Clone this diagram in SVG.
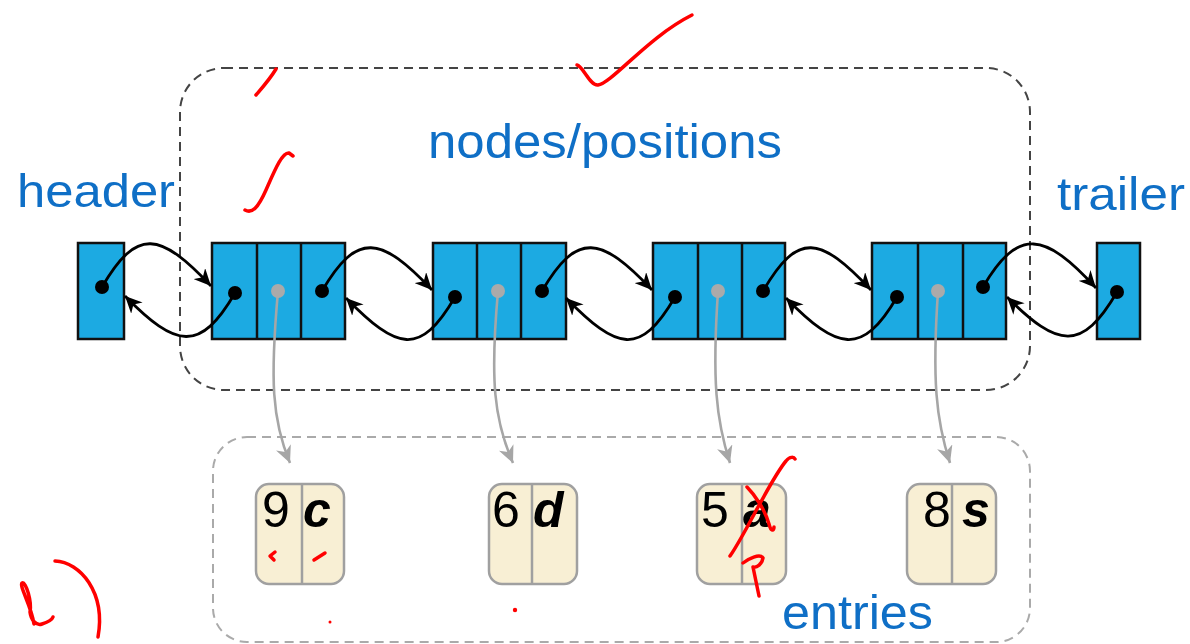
<svg xmlns="http://www.w3.org/2000/svg" width="1190" height="644" viewBox="0 0 1190 644">
  <style>
    .label { font-family: "Liberation Sans", Arial, sans-serif; fill: #0F6FC6; }
    .cell { fill: #1CAAE2; stroke: #111; stroke-width: 2.5; }
    .div { stroke: #111; stroke-width: 2.5; }
    .link { fill: none; stroke: #000; stroke-width: 2.8; }
    .ref { fill: none; stroke: #A6A6A6; stroke-width: 2.6; }
    .dot { fill: #000; }
    .gdot { fill: #AAAAAA; }
    .entry { fill: #F8EFD4; stroke: #A0A0A0; stroke-width: 2.5; }
    .ediv { stroke: #A0A0A0; stroke-width: 2.5; }
    .key { font-family: "Liberation Sans", Arial, sans-serif; font-size: 50px; fill: #000; }
    .val { font-family: "Liberation Sans", Arial, sans-serif; font-size: 50px; font-weight: bold; font-style: italic; fill: #000; }
    .ink { fill: none; stroke: #FF0000; stroke-width: 3.5; stroke-linecap: round; stroke-linejoin: round; }
  </style>
  <defs>
    <marker id="arrow" markerUnits="userSpaceOnUse" markerWidth="18" markerHeight="16" refX="17" refY="8" orient="auto">
      <path d="M0,0 L17,8 L0,16 L5,8 z" fill="#000"/>
    </marker>
    <marker id="garrow" markerUnits="userSpaceOnUse" markerWidth="18" markerHeight="16" refX="17" refY="8" orient="auto">
      <path d="M0,0 L17,8 L0,16 L5,8 z" fill="#A6A6A6"/>
    </marker>
  </defs>

  <rect width="1190" height="644" fill="#fff"/>

  <!-- containers -->
  <g id="positions-frame">
    <rect x="180" y="68" width="850" height="322" rx="44" fill="none" stroke="#444" stroke-width="2" stroke-dasharray="9,6"/>
    <text class="label" x="428" y="158" font-size="48" textLength="354" lengthAdjust="spacingAndGlyphs">nodes/positions</text>
  </g>
  <g id="entries-frame">
    <rect x="213" y="437" width="817" height="205" rx="34" fill="none" stroke="#AAAAAA" stroke-width="2" stroke-dasharray="9,6"/>
    <text class="label" x="782" y="629" font-size="48" textLength="151" lengthAdjust="spacingAndGlyphs">entries</text>
  </g>

  <!-- sentinels -->
  <g id="header">
    <text class="label" x="17" y="207" font-size="46" textLength="158" lengthAdjust="spacingAndGlyphs">header</text>
    <rect class="cell" x="78" y="243" width="46" height="96"/>
  </g>
  <g id="trailer">
    <text class="label" x="1057" y="210" font-size="46" textLength="128" lengthAdjust="spacingAndGlyphs">trailer</text>
    <rect class="cell" x="1097" y="243" width="43" height="96"/>
  </g>

  <!-- list nodes: prev | element | next -->
  <g id="node1">
    <rect class="cell" x="212" y="243" width="133" height="96"/>
    <line class="div" x1="257" y1="243" x2="257" y2="339"/>
    <line class="div" x1="301" y1="243" x2="301" y2="339"/>
  </g>
  <g id="node2">
    <rect class="cell" x="433" y="243" width="133" height="96"/>
    <line class="div" x1="477" y1="243" x2="477" y2="339"/>
    <line class="div" x1="521" y1="243" x2="521" y2="339"/>
  </g>
  <g id="node3">
    <rect class="cell" x="653" y="243" width="132" height="96"/>
    <line class="div" x1="698" y1="243" x2="698" y2="339"/>
    <line class="div" x1="742" y1="243" x2="742" y2="339"/>
  </g>
  <g id="node4">
    <rect class="cell" x="872" y="243" width="134" height="96"/>
    <line class="div" x1="918" y1="243" x2="918" y2="339"/>
    <line class="div" x1="963" y1="243" x2="963" y2="339"/>
  </g>

  <!-- entries (key | value) -->
  <g id="entry-9c">
    <rect class="entry" x="256" y="484" width="88" height="100" rx="13"/>
    <line class="ediv" x1="302" y1="484" x2="302" y2="584"/>
    <text class="key" x="262" y="527">9</text>
    <text class="val" x="303" y="527">c</text>
  </g>
  <g id="entry-6d">
    <rect class="entry" x="489" y="484" width="88" height="100" rx="13"/>
    <line class="ediv" x1="532" y1="484" x2="532" y2="584"/>
    <text class="key" x="492" y="527">6</text>
    <text class="val" x="533" y="527">d</text>
  </g>
  <g id="entry-5a">
    <rect class="entry" x="697" y="484" width="89" height="100" rx="13"/>
    <line class="ediv" x1="742" y1="484" x2="742" y2="584"/>
    <text class="key" x="701" y="527">5</text>
    <text class="val" x="743" y="527">a</text>
  </g>
  <g id="entry-8s">
    <rect class="entry" x="907" y="484" width="89" height="100" rx="13"/>
    <line class="ediv" x1="952" y1="484" x2="952" y2="584"/>
    <text class="key" x="923" y="527">8</text>
    <text class="val" x="962" y="527">s</text>
  </g>

  <!-- connectors -->
  <g id="connectors">
    <!-- next links -->
    <path class="link" marker-end="url(#arrow)" d="M102,287 C137,227 160,232 211,286"/>
    <path class="link" marker-end="url(#arrow)" d="M322,291 C357,231 381,236 432,290"/>
    <path class="link" marker-end="url(#arrow)" d="M542,291 C577,231 601,236 652,290"/>
    <path class="link" marker-end="url(#arrow)" d="M763,291 C798,231 820,236 871,290"/>
    <path class="link" marker-end="url(#arrow)" d="M983,287 C1018,227 1045,232 1096,288"/>
    <!-- prev links -->
    <path class="link" marker-end="url(#arrow)" d="M235,293 C200,353 176,348 125,296"/>
    <path class="link" marker-end="url(#arrow)" d="M455,297 C420,357 397,350 346,298"/>
    <path class="link" marker-end="url(#arrow)" d="M675,297 C640,357 617,350 566,298"/>
    <path class="link" marker-end="url(#arrow)" d="M897,297 C862,357 837,350 786,298"/>
    <path class="link" marker-end="url(#arrow)" d="M1117,292 C1082,352 1058,348 1007,297"/>
    <!-- element references -->
    <path class="ref" marker-end="url(#garrow)" d="M278,291 C270,380 272,420 290,463"/>
    <path class="ref" marker-end="url(#garrow)" d="M498,291 C490,380 494,420 513,463"/>
    <path class="ref" marker-end="url(#garrow)" d="M718,291 C712,380 716,420 730,463"/>
    <path class="ref" marker-end="url(#garrow)" d="M938,291 C932,380 936,420 950,463"/>
  </g>

  <!-- pointer dots -->
  <g id="pointers">
    <circle class="dot" cx="102" cy="287" r="7"/>
    <circle class="dot" cx="235" cy="293" r="7"/>
    <circle class="gdot" cx="278" cy="291" r="7"/>
    <circle class="dot" cx="322" cy="291" r="7"/>
    <circle class="dot" cx="455" cy="297" r="7"/>
    <circle class="gdot" cx="498" cy="291" r="7"/>
    <circle class="dot" cx="542" cy="291" r="7"/>
    <circle class="dot" cx="675" cy="297" r="7"/>
    <circle class="gdot" cx="718" cy="291" r="7"/>
    <circle class="dot" cx="763" cy="291" r="7"/>
    <circle class="dot" cx="897" cy="297" r="7"/>
    <circle class="gdot" cx="938" cy="291" r="7"/>
    <circle class="dot" cx="983" cy="287" r="7"/>
    <circle class="dot" cx="1117" cy="292" r="7"/>
  </g>

  <!-- red pen marks -->
  <g id="ink">
    <path class="ink" d="M256,95 C262,88 270,79 276,69"/>
    <path class="ink" d="M577,65 C583,66 590,86 598,85 C612,83 648,37 692,15"/>
    <path class="ink" d="M245,210 C252,214 258,208 266,190 C274,172 282,152 289,153 L293,156"/>
    <path class="ink" d="M34,624 C31,605 19,586 22,583 C26,581 32,602 30,612 C31,620 36,626 42,624 C48,622 52,620 53,617"/>
    <path class="ink" d="M55,561 C80,562 106,592 98,637"/>
    <path class="ink" d="M275,552 L270,556 L274,560"/>
    <path class="ink" d="M314,560 L325,553"/>
    <circle cx="330" cy="622" r="1.5" fill="#FF0000"/>
    <circle cx="515" cy="610" r="2.2" fill="#FF0000"/>
    <path class="ink" d="M730,556 C745,535 770,480 786,461 C790,456 794,457 795,459"/>
    <path class="ink" d="M747,487 C755,495 765,510 769,524 C771,532 774,531 774,527"/>
    <path class="ink" d="M743,563 C748,559 760,553 763,558 C762,564 757,568 753,567 L759,596"/>
  </g>
</svg>
